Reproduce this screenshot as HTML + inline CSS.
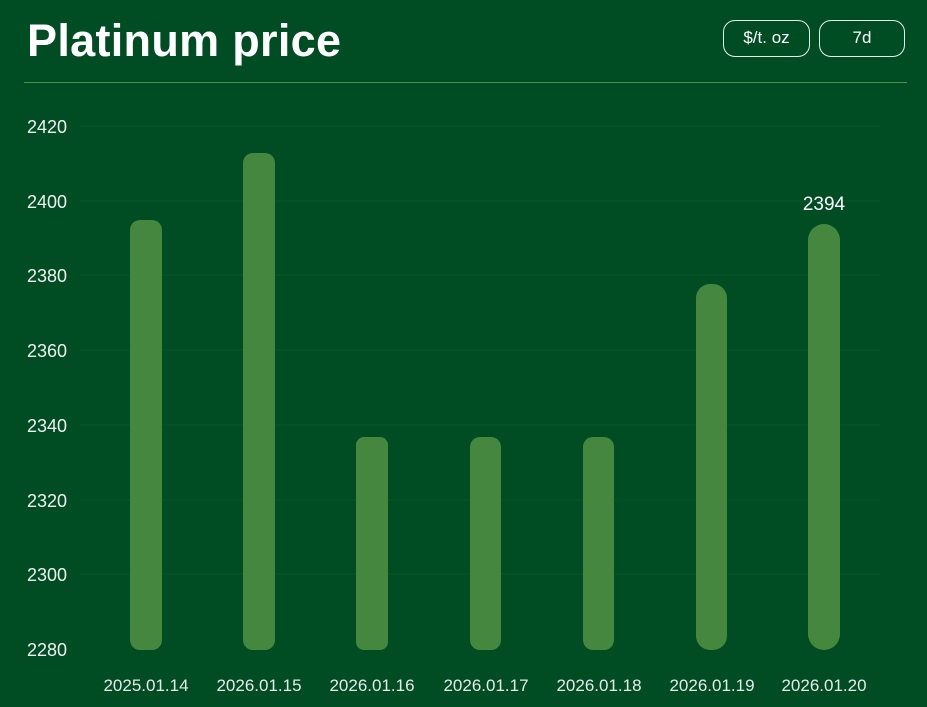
<!DOCTYPE html>
<html><head><style>
body{margin:0;width:927px;height:707px;background:#004d23;overflow:hidden;font-family:"Liberation Sans",sans-serif;color:#fff}
.t{position:absolute;left:27px;top:15px;font-size:45px;font-weight:bold;letter-spacing:0.3px}
.b{position:absolute;top:20px;height:37px;border:1.5px solid #e8f0e8;border-radius:12px;box-sizing:border-box;font-size:17px;text-align:center;line-height:34px}
</style></head><body>
<div class="t">Platinum price</div>
<div class="b" style="left:723px;width:87px">$/t. oz</div>
<div class="b" style="left:819px;width:86px">7d</div>
<div style="position:absolute;left:24px;top:82px;width:883px;height:1px;background:#4f8f4a"></div>
<svg width="927" height="707" style="position:absolute;left:0;top:0">
<g stroke="#08552a" stroke-width="1">
<line x1="80" x2="880" y1="126" y2="126"/><line x1="80" x2="880" y1="201" y2="201"/>
<line x1="80" x2="880" y1="275" y2="275"/><line x1="80" x2="880" y1="350" y2="350"/>
<line x1="80" x2="880" y1="425" y2="425"/><line x1="80" x2="880" y1="500" y2="500"/>
<line x1="80" x2="880" y1="574" y2="574"/>
</g>
<g font-size="18" fill="#f0f0f0" font-family="Liberation Sans">
<text x="27" y="133">2420</text><text x="27" y="208">2400</text><text x="27" y="282">2380</text>
<text x="27" y="357">2360</text><text x="27" y="432">2340</text><text x="27" y="507">2320</text>
<text x="27" y="581">2300</text><text x="27" y="656">2280</text>
</g>
<g fill="#45873f">
<rect x="130" y="220" width="32" height="430" rx="10"/>
<rect x="243" y="153" width="32" height="497" rx="10"/>
<rect x="356" y="437" width="32" height="213" rx="8"/>
<rect x="470" y="437" width="31" height="213" rx="10"/>
<rect x="583" y="437" width="31" height="213" rx="10"/>
<rect x="696" y="284" width="31" height="366" rx="14"/>
<rect x="808" y="224" width="32" height="426" rx="16"/>
</g>
<text x="824" y="210" font-size="19" fill="#fff" text-anchor="middle" font-family="Liberation Sans">2394</text>
<g font-size="17" fill="#e8e8e8" text-anchor="middle" font-family="Liberation Sans">
<text x="146" y="691">2025.01.14</text><text x="259" y="691">2026.01.15</text>
<text x="372" y="691">2026.01.16</text><text x="486" y="691">2026.01.17</text>
<text x="599" y="691">2026.01.18</text><text x="712" y="691">2026.01.19</text>
<text x="824" y="691">2026.01.20</text>
</g>
</svg>
</body></html>
